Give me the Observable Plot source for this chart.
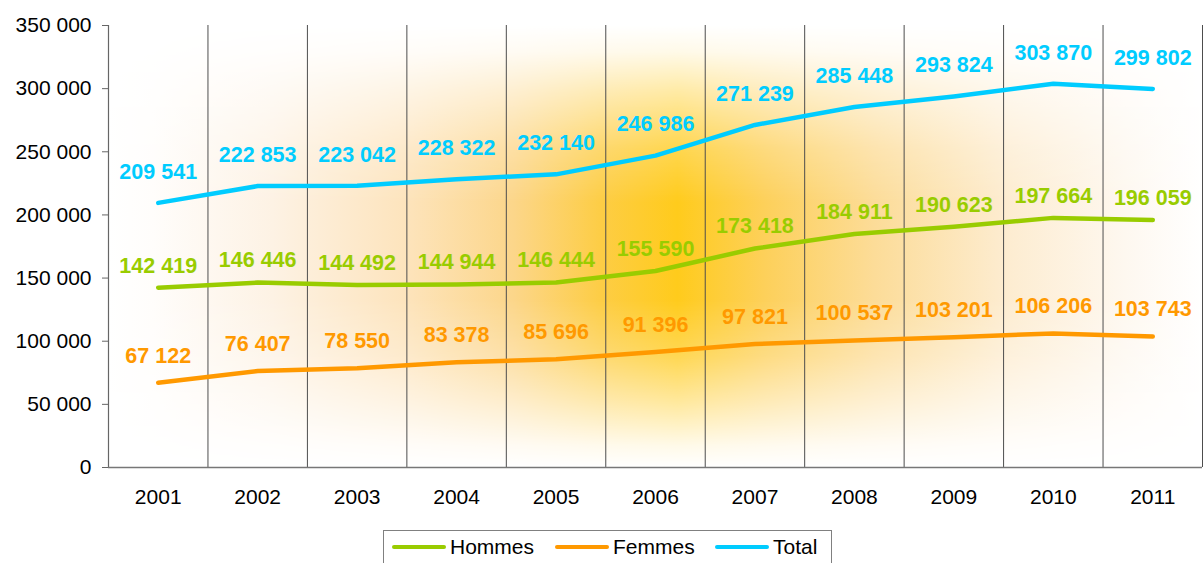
<!DOCTYPE html>
<html>
<head>
<meta charset="utf-8">
<script src="https://cdn.jsdelivr.net/npm/d3@7"></script>
<script src="https://cdn.jsdelivr.net/npm/@observablehq/plot@0.6"></script>
<style>
  body { margin: 0; background: #fff; font-family: Arial, "Liberation Sans", sans-serif; }
  #chart { position: absolute; left: 0; top: 0; }
  #legend {
    position: absolute; left: 383px; top: 530px; width: 447px; height: 40px;
    border: 1px solid #808080; background: #fff; box-sizing: content-box;
    font-size: 21px; color: #000;
  }
  .item { position: absolute; top: 1px; display: flex; align-items: center; height: 30px; }
  .sw { width: 54px; height: 4px; border-radius: 2px; margin-right: 4px; }
</style>
</head>
<body>
<div id="chart"></div>
<div id="legend"></div>
<script>
const years = [2001, 2002, 2003, 2004, 2005, 2006, 2007, 2008, 2009, 2010, 2011];
const hommes = [142419, 146446, 144492, 144944, 146444, 155590, 173418, 184911, 190623, 197664, 196059];
const femmes = [67122, 76407, 78550, 83378, 85696, 91396, 97821, 100537, 103201, 106206, 103743];
const total  = [209541, 222853, 223042, 228322, 232140, 246986, 271239, 285448, 293824, 303870, 299802];
const seriesNames = ["Hommes", "Femmes", "Total"];
const seriesColors = ["#99cc00", "#ff9900", "#00ccff"];
const yTicks = [0, 50000, 100000, 150000, 200000, 250000, 300000, 350000];

const labelDy = {Hommes: -22, Femmes: -27, Total: -31};
const seriesValues = [hommes, femmes, total];
const rows = [];
seriesNames.forEach((s, i) => years.forEach((yr, j) => rows.push({series: s, year: yr, value: seriesValues[i][j]})));

const fmt = v => d3.format(",")(v).replace(/,/g, " ");
const gridX = years.slice(1).map(y => y - 0.5).concat([years[years.length - 1] + 0.5]);

const chart = Plot.plot({
  width: 1203, height: 522,
  marginLeft: 108, marginRight: 1, marginTop: 25, marginBottom: 55,
  style: {fontFamily: "Arial, 'Liberation Sans', sans-serif", fontSize: "21px", background: "transparent", color: "#000", overflow: "visible"},
  x: {domain: [years[0] - 0.5, years[years.length - 1] + 0.5], axis: null},
  y: {domain: [0, 350000], axis: null},
  color: {domain: seriesNames, range: seriesColors},
  marks: [
    Plot.frame({fill: "url(#bgH)", stroke: null}),
    Plot.ruleX(gridX, {y1: 0, y2: 350000, stroke: "#4d4d4d", strokeWidth: 1}),
    Plot.ruleX([years[0] - 0.5], {y1: 0, y2: 350000, stroke: "#666", strokeWidth: 1.2}),
    Plot.ruleY([0], {stroke: "#777", strokeWidth: 1.5}),
    Plot.axisY({ticks: yTicks, tickSize: 6, tickPadding: 11, tickFormat: fmt, stroke: "#666", fill: "#000", label: null}),
    Plot.axisX({ticks: years, tickSize: 0, tickPadding: 22, tickFormat: d => String(d), fill: "#000", label: null}),
    Plot.line(rows, {x: "year", y: "value", z: "series", stroke: "series", strokeWidth: 4.5, strokeLinecap: "round", strokeLinejoin: "round"}),
    ...seriesNames.map((s, i) => Plot.text(rows.filter(r => r.series === s), {
      x: "year", y: "value", text: d => fmt(d.value), fill: seriesColors[i],
      fontWeight: "bold", fontSize: 21.5, dy: labelDy[s]
    }))
  ]
});

// gradient definitions for the plot background
const defs = d3.select(chart).insert("defs", ":first-child");
const gH = defs.append("linearGradient").attr("id", "bgH").attr("x1", "0").attr("x2", "1").attr("y1", "0").attr("y2", "0");
[[0, "#ffffff"], [0.04, "#fffdfb"], [0.15, "#fdf2e4"], [0.27, "#fde4bd"], [0.37, "#fcd68a"], [0.45, "#fdcd45"], [0.52, "#ffcb1c"], [0.6, "#fdd05a"], [0.7, "#fcdc98"], [0.82, "#fdecd0"], [0.93, "#fef8f0"], [1, "#ffffff"]]
  .forEach(([o, c]) => gH.append("stop").attr("offset", o).attr("stop-color", c));
const gV = defs.append("linearGradient").attr("id", "bgV").attr("x1", "0").attr("x2", "0").attr("y1", "0").attr("y2", "1");
[[0, "#000"], [0.06, "#1a1a1a"], [0.15, "#666"], [0.28, "#c8c8c8"], [0.4, "#fff"], [0.62, "#fff"], [0.75, "#c0c0c0"], [0.85, "#707070"], [0.95, "#1a1a1a"], [1, "#000"]]
  .forEach(([o, c]) => gV.append("stop").attr("offset", o).attr("stop-color", c));
const mask = defs.append("mask").attr("id", "bgMask").attr("maskContentUnits", "objectBoundingBox");
mask.append("rect").attr("x", 0).attr("y", 0).attr("width", 1).attr("height", 1).attr("fill", "url(#bgV)");
d3.select(chart).selectAll("[aria-label=frame]").attr("mask", "url(#bgMask)");

document.getElementById("chart").appendChild(chart);

// legend
const legend = d3.select("#legend");
const itemX = [8, 171, 331];
seriesNames.forEach((s, i) => {
  const it = legend.append("div").attr("class", "item").style("left", itemX[i] + "px");
  it.append("div").attr("class", "sw").style("background", seriesColors[i]);
  it.append("span").text(s);
});
</script>
</body>
</html>
